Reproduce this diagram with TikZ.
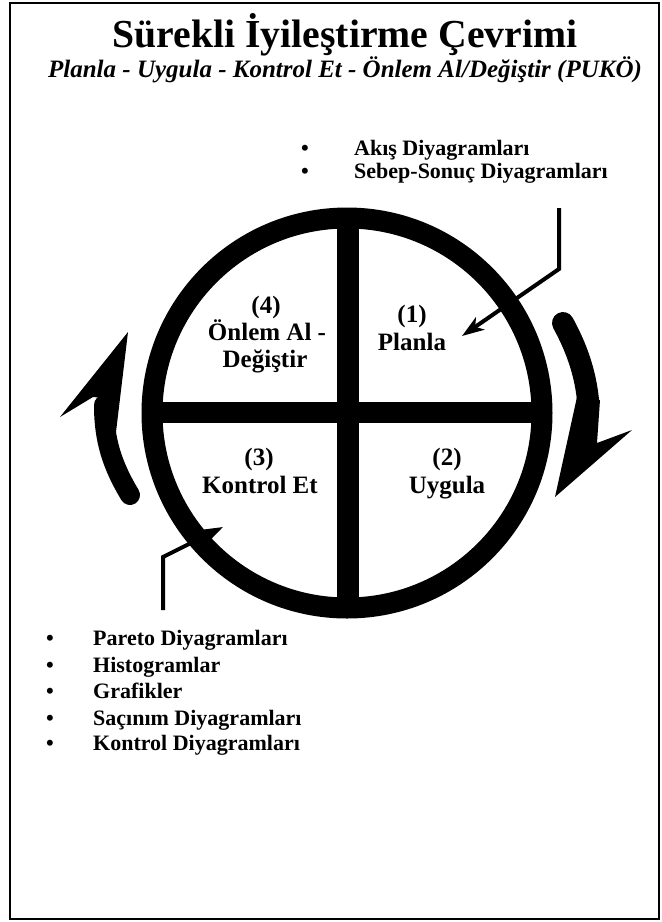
\documentclass[tikz,border=0pt]{standalone}
\usepackage{fontspec}
\setmainfont{Liberation Serif}
\usetikzlibrary{arrows.meta}
\begin{document}
\begin{tikzpicture}[x=1pt,y=-1pt,
  titletext/.style={font=\fontsize{39.7}{44}\selectfont\bfseries, anchor=base, inner sep=0pt},
  subtext/.style={font=\fontsize{25}{28}\selectfont\bfseries\itshape, anchor=base, inner sep=0pt},
  quadtext/.style={font=\fontsize{25}{28}\selectfont\bfseries, anchor=base, inner sep=0pt},
  itemtext/.style={font=\fontsize{22}{26}\selectfont\bfseries, anchor=base west, inner sep=0pt},
  bullettext/.style={font=\fontsize{22}{26}\selectfont\bfseries, anchor=base, inner sep=0pt},
  pointer/.style={line width=4pt, miter limit=20, -{Stealth[length=22pt,width=15pt,inset=6pt]}},
  ringline/.style={line width=21pt},
  barline/.style={line width=22pt},
  frameline/.style={line width=1.6pt}]
\useasboundingbox (0,0) rectangle (662,922);
\draw[frameline] (10,3) rectangle (659,919);

% titles
\node[titletext] (title) at (345,47) {Sürekli İyileştirme Çevrimi};
\node[subtext] (subtitle) at (345,77) {Planla - Uygula - Kontrol Et - Önlem Al/Değiştir (PUKÖ)};

% top list
\node[bullettext] (tb1) at (305,155) {•};
\node[itemtext] (ti1) at (354,155) {Akış Diyagramları};
\node[bullettext] (tb2) at (305,178) {•};
\node[itemtext] (ti2) at (354,178) {Sebep-Sonuç Diyagramları};

% ring and bars
\coordinate (c) at (347,413);
\draw[ringline] (c) circle[radius=195pt];
\coordinate (vt) at (348,218);
\coordinate (vb) at (348,608);
\coordinate (hl) at (152,412.5);
\coordinate (hr) at (542,412.5);
\draw[barline] (vt) -- (vb);
\draw[line width=21pt] (hl) -- (hr);

% quadrant labels
\node[quadtext] (q4a) at (266,313) {(4)};
\node[quadtext] (q4b) at (267,340) {Önlem Al -};
\node[quadtext] (q4c) at (265,367) {Değiştir};
\node[quadtext] (q1a) at (412,322) {(1)};
\node[quadtext] (q1b) at (412,350) {Planla};
\node[quadtext] (q3a) at (259,465) {(3)};
\node[quadtext] (q3b) at (260,493) {Kontrol Et};
\node[quadtext] (q2a) at (447,465) {(2)};
\node[quadtext] (q2b) at (447,493) {Uygula};

% pointers
\coordinate (p1s) at (559,208);
\coordinate (p1k) at (559,269);
\coordinate (p1t) at (462,336);
\draw[pointer] (p1s) -- (p1k) -- (p1t);
\coordinate (p2s) at (163,610);
\coordinate (p2k) at (163,557);
\coordinate (p2t) at (223,527);
\draw[pointer] (p2s) -- (p2k) -- (p2t);

% left curved arrow
\draw[line width=20pt, line cap=round] (130,495) .. controls (112,465) and (104,440) .. (104,405);
\fill (128,332) -- (60,417) -- (93,397) -- (104,398) -- (116,432) -- cycle;

% right curved arrow
\draw[line width=22pt, line cap=round] (563,323) .. controls (575,345) and (585,370) .. (588,400);
\fill (577,397) -- (555,497) -- (632,430) -- (597,443) -- (600,400) -- cycle;

% bottom list
\node[bullettext] (bb1) at (50,645) {•};
\node[itemtext] (bi1) at (93,645) {Pareto Diyagramları};
\node[bullettext] (bb2) at (50,672) {•};
\node[itemtext] (bi2) at (93,672) {Histogramlar};
\node[bullettext] (bb3) at (50,698) {•};
\node[itemtext] (bi3) at (93,698) {Grafikler};
\node[bullettext] (bb4) at (50,725) {•};
\node[itemtext] (bi4) at (93,725) {Saçınım Diyagramları};
\node[bullettext] (bb5) at (50,750) {•};
\node[itemtext] (bi5) at (93,750) {Kontrol Diyagramları};
\end{tikzpicture}
\end{document}
